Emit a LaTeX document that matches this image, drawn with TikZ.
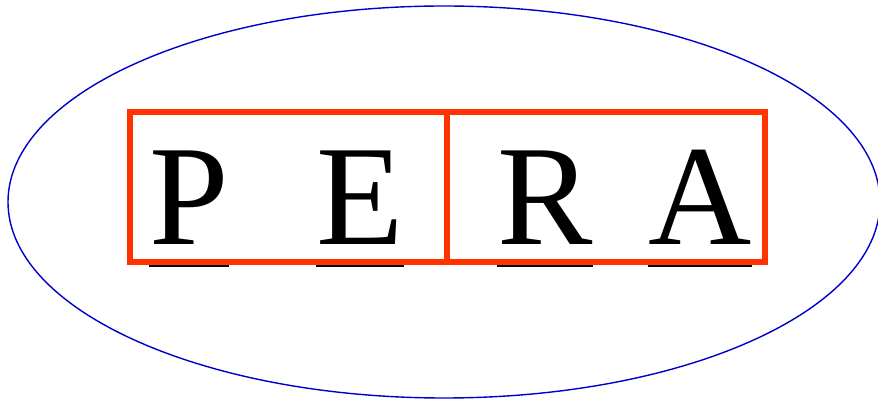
\documentclass[tikz,border=0pt]{standalone}
\usepackage{fontspec}
\setmainfont{Liberation Serif}
\definecolor{boxred}{RGB}{255,51,0}
\definecolor{ringblue}{RGB}{0,0,204}
\tikzset{
  letter/.style={anchor=base west, inner sep=0pt, font=\fontsize{143}{150}\selectfont},
  uline/.style={line width=3.5pt, black},
  halfbox/.style={draw=boxred, line width=5.2pt},
}
\begin{document}
\begin{tikzpicture}[x=1pt, y=1pt]
  \useasboundingbox (0,0) rectangle (878,401);
  \draw[ringblue, line width=1.4pt] (444,199) ellipse [x radius=436, y radius=196];
  % letters
  \node[letter] (P) at (149,156) {P};
  \node[letter] (E) at (316,156) {E};
  \node[letter] (R) at (497,156) {R};
  \node[letter] (A) at (648,156) {A};
  \foreach \l in {P,E,R,A}
    \draw[uline] ([yshift=-20pt]\l.base west) -- ([yshift=-20pt]\l.base east);
  % the two halves
  \draw[halfbox] (130,139) rectangle (447,289);
  \draw[halfbox] (447,139) rectangle (765,289);
\end{tikzpicture}
\end{document}
